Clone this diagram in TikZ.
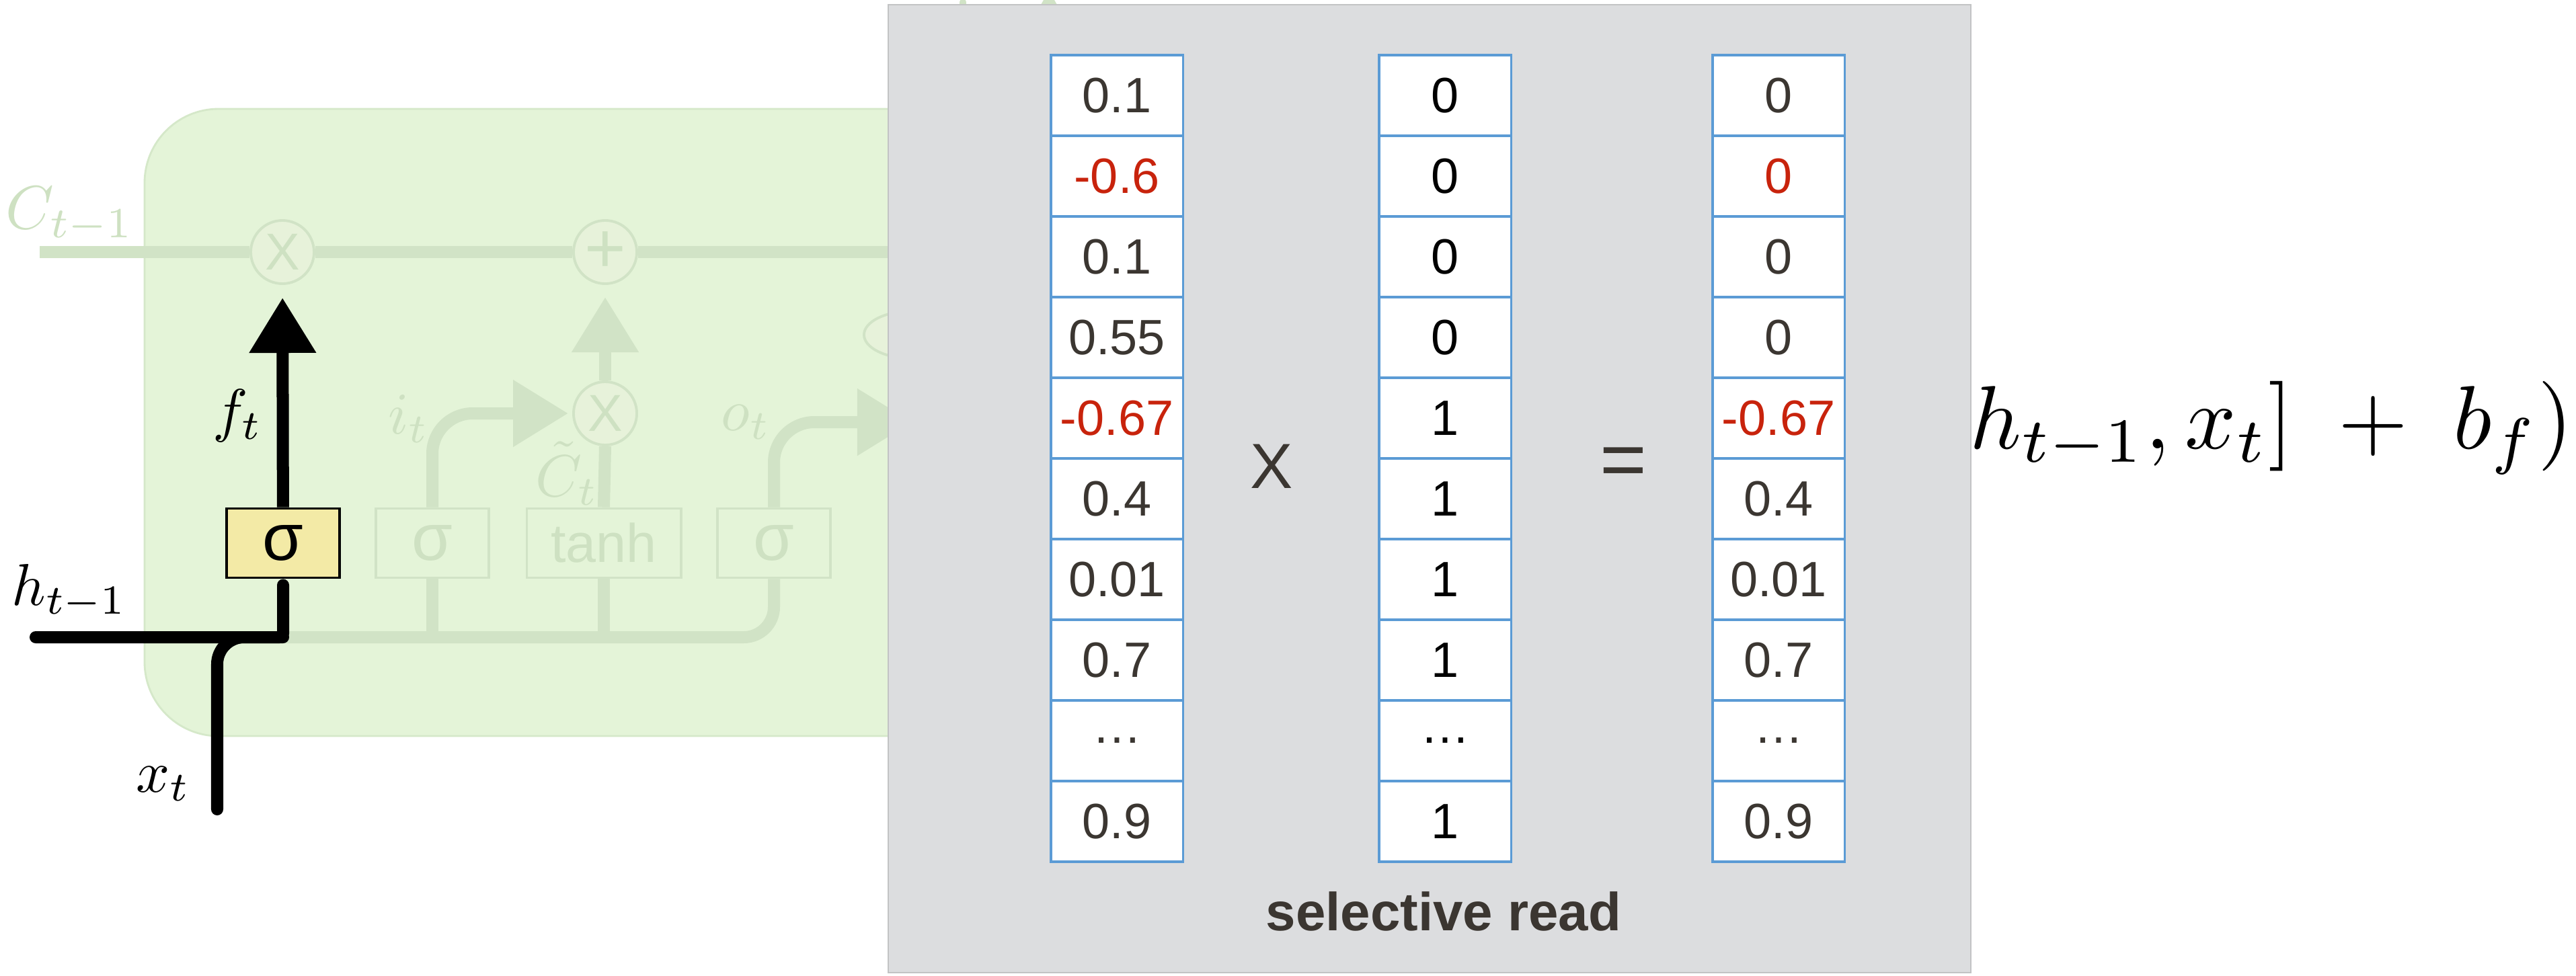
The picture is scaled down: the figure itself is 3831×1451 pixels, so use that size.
\documentclass[tikz,border=0pt]{standalone}
\usepackage{graphicx}
\usepackage{fontspec}
\newfontfamily\cellfont{Liberation Sans}
\usepackage{tikz}
\usetikzlibrary{arrows.meta,positioning,calc}

\definecolor{cellbg}{HTML}{E4F4D8}
\definecolor{cellrim}{HTML}{D5E8C9}
\definecolor{fadeln}{HTML}{D1E3C6}
\definecolor{fadefill}{HTML}{E7F2DA}
\definecolor{fadetxt}{HTML}{CEE1C2}
\definecolor{sigfill}{HTML}{F3EAA6}
\definecolor{panelbg}{HTML}{DCDDDF}
\definecolor{cellblue}{HTML}{5B9BD5}
\definecolor{numink}{HTML}{3B3631}
\definecolor{numred}{HTML}{C8230C}

% math set at 10pt and blown up
\newcommand{\lblmath}[2]{\scalebox{#1}{$#2$}}

\tikzset{
  gatebox/.style  = {rectangle, draw=fadeln, line width=1.1pt, fill=cellbg,
                     minimum width=1.68cm, minimum height=1.03cm, inner sep=0pt,
                     text=fadetxt, font=\cellfont\fontsize{28}{30}\selectfont},
  hotbox/.style   = {gatebox, draw=black, fill=sigfill, text=black},
  opcirc/.style   = {circle, draw=fadeln, line width=1.1pt, fill=fadefill,
                     minimum size=0.94cm, inner sep=0pt, text=fadetxt,
                     font=\cellfont\fontsize{22}{24}\selectfont},
  fadeflow/.style = {draw=fadeln, line width=1.8mm},
  hotflow/.style  = {draw=black, line width=1.8mm},
  bigtip/.style   = {-{Triangle[length=8.2mm,width=9.5mm]}},
  mathlbl/.style  = {anchor=base west, inner sep=0pt},
  vcell/.style    = {rectangle, draw=cellblue, line width=0.9pt, fill=white,
                     minimum width=1.96cm, minimum height=1.2cm, inner sep=0pt,
                     font=\cellfont\fontsize{21}{25}\selectfont},
  opsign/.style   = {inner sep=0pt, text=numink, font=\cellfont\fontsize{27}{30}\selectfont},
}

\begin{document}
\begin{tikzpicture}[x=0.01cm, y=-0.01cm]
  \useasboundingbox (0,0) rectangle (3831,1451);

  % LSTM cell, faded out except for the forget gate
  \draw[cellrim, fill=cellbg, line width=0.8pt, rounded corners=11mm] (215,162) rectangle (1500,1095);

  \node[opcirc] (fx1)   at (420,375) {X};
  \node[opcirc, font=\cellfont\fontsize{30}{32}\selectfont] (fplus) at (900,375) {+};
  \node[opcirc] (fx2)   at (900,615) {X};

  \node[hotbox]  (sig1) at (421,808) {σ};
  \node[gatebox] (sig2) at (643,808) {σ};
  \node[gatebox, minimum width=2.29cm, font=\cellfont\fontsize{23}{26}\selectfont] (tanh) at (898,808) {tanh};
  \node[gatebox] (sig3) at (1151,808) {σ};

  \coordinate (cin)  at (59,375);
  \coordinate (cout) at (1400,375);
  \coordinate (hin)  at (53,948);
  \coordinate (xin)  at (323,1204);
  \coordinate (join) at (421,948);
  \coordinate (oout) at (1357,628);

  \draw[fadeflow] (cin) -- (fx1) -- (fplus) -- (cout);
  \draw[fadeflow, rounded corners=4.5mm] (join) -| (sig3.south);
  \draw[fadeflow] (sig2.south) -- (sig2.south |- join);
  \draw[fadeflow] (tanh.south) -- (tanh.south |- join);
  \draw[fadeflow, bigtip, rounded corners=6mm, shorten >=0.6mm] (sig2.north) |- (fx2.west);
  \draw[fadeflow] (tanh.north) -- (fx2.south);
  \draw[fadeflow, bigtip, shorten >=1.8mm] (fx2) -- (fplus);
  \draw[fadeflow, bigtip, rounded corners=6mm] (sig3.north) |- (oout);
  \draw[fadeln, fill=fadefill, line width=1.1pt] (1355,498) ellipse [x radius=0.7cm, y radius=0.35cm];
  \draw[fadeln, line width=1mm, line cap=round] (1432,80) -- (1432,3);
  \fill[fadeln] (1560,-14) -- (1608,70) -- (1512,70) -- cycle;

  \node[mathlbl, text=fadetxt] (clbl)  at (8,340)    {\lblmath{2.6}{C_{t-1}}};
  \node[mathlbl, text=fadetxt] (ilbl)  at (577,645)  {\lblmath{2.5}{i_t}};
  \node[mathlbl, text=fadetxt] (olbl)  at (1072,640) {\lblmath{2.5}{o_t}};
  \node[mathlbl, text=fadetxt] (ctlbl) at (796,738)  {\lblmath{2.5}{\tilde{C}_t}};

  % forget gate path
  \draw[hotflow, line cap=round, rounded corners=4mm] (xin) |- (join);
  \draw[hotflow, line cap=round, rounded corners=0.6mm, shorten >=0.9mm] (hin) -- (join) -- (sig1.south);
  \draw[hotflow, bigtip, shorten >=1.9mm] (sig1) -- (fx1);

  \node[mathlbl] (hlbl) at (17,900)   {\lblmath{2.5}{h_{t-1}}};
  \node[mathlbl] (xlbl) at (202,1178) {\lblmath{2.5}{x_t}};
  \node[mathlbl] (flbl) at (316,640)  {\lblmath{2.5}{f_t}};

  % tail of the gate formula
  \node[mathlbl] (fgate) at (2929,667)
        {\lblmath{3.8}{h_{t-1}, x_t] \mskip5mu + \mskip5mu b_f)}};

  % selective read panel
  \fill[panelbg] (1321,7) rectangle (2931,1447);
  \draw[panelbg!88!black, line width=0.5pt] (1321,7) rectangle (2931,1447);

  \foreach \v/\c [count=\i] in {0.1/numink, -0.6/numred, 0.1/numink, 0.55/numink, -0.67/numred,
                                0.4/numink, 0.01/numink, 0.7/numink, …/numink, 0.9/numink}
    \node[vcell, text=\c] (vin-\i) at (1661,{142+(\i-1)*120}) {\v};
  \foreach \v [count=\i] in {0,0,0,0,1,1,1,1,…,1}
    \node[vcell, text=black] (vmask-\i) at (2149,{142+(\i-1)*120}) {\v};
  \foreach \v/\c [count=\i] in {0/numink, 0/numred, 0/numink, 0/numink, -0.67/numred,
                                0.4/numink, 0.01/numink, 0.7/numink, …/numink, 0.9/numink}
    \node[vcell, text=\c] (vout-\i) at (2645,{142+(\i-1)*120}) {\v};

  \node[opsign] (times) at (1891,694) {X};
  \node[opsign, font=\cellfont\fontsize{34}{36}\selectfont] (equals) at (2414,695) {=};
  \node[inner sep=0pt, text=numink, font=\cellfont\bfseries\fontsize{22.7}{26}\selectfont]
        (caption) at (2147,1356) {selective read};
\end{tikzpicture}
\end{document}
